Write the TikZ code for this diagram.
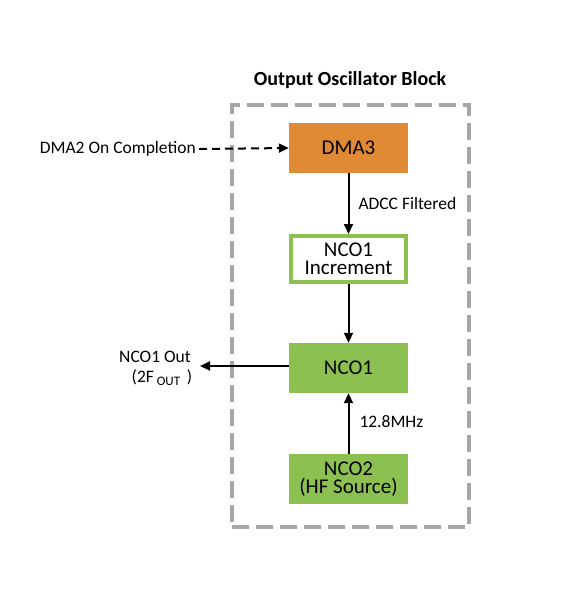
\documentclass[tikz,border=0pt]{standalone}
\usepackage{fontspec}
\setmainfont{Carlito}
\usetikzlibrary{arrows.meta}
\definecolor{boxorange}{HTML}{E08A36}
\definecolor{boxgreen}{HTML}{8CC152}
\definecolor{framegray}{HTML}{A6A6A6}
\begin{document}
\begin{tikzpicture}[x=1pt,y=-1pt,
  blockbox/.style={minimum width=119pt,minimum height=50pt,inner sep=0pt,
    font=\fontsize{21}{17.5}\selectfont,align=center},
  lbl/.style={font=\fontsize{17.5}{20}\selectfont,inner sep=0pt},
  conn/.style={line width=2pt,-{Triangle[length=10pt,width=9pt]}},
  dashconn/.style={conn,dash pattern=on 8pt off 5pt}]
\useasboundingbox (0,0) rectangle (569,600);
\node (frame) [draw=framegray,line width=4pt,dash pattern=on 17pt off 7pt,
  minimum width=237pt,minimum height=422pt,inner sep=0pt] at (350.5,316) {};
\node (title) [font=\fontsize{20}{24}\selectfont\bfseries,inner sep=0pt] at (350,80) {Output Oscillator Block};
\node (dma3) [blockbox,fill=boxorange] at (348.5,148) {DMA3};
\node (inc) [blockbox,fill=white,draw=boxgreen,line width=4pt,
  minimum width=115pt,minimum height=46pt] at (348.5,259) {NCO1\\Increment};
\node (nco1) [blockbox,fill=boxgreen] at (348.5,368) {NCO1};
\node (nco2) [blockbox,fill=boxgreen] at (348.5,479) {NCO2\\(HF Source)};
\node (src) [lbl,anchor=east] at (196,149) {DMA2 On Completion};
\node (out) [lbl,align=center] at (155,368) {NCO1 Out\\\hspace*{14pt}(2F\,\raisebox{-3pt}{\fontsize{13}{13}\selectfont OUT}\, )};
\coordinate (outend) at (200,366);
\draw[dashconn] ([xshift=3pt]src.east) -- (dma3.west);
\draw[conn] (dma3) -- node[lbl,right,xshift=9pt] {ADCC Filtered} (inc);
\draw[conn] (inc) -- (nco1);
\draw[conn] (nco2) -- node[lbl,right,xshift=10pt,yshift=2pt] {12.8MHz} (nco1);
\draw[conn] (nco1.west |- outend) -- (outend);
\end{tikzpicture}
\end{document}
